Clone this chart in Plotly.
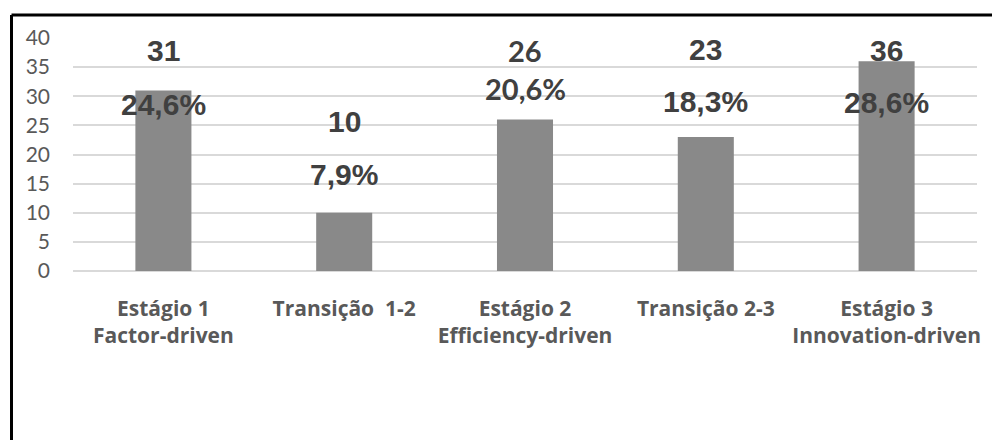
import plotly.graph_objects as go

# Categories and counts per stage of economic development
categories = [
    "Estágio 1<br>Factor-driven",
    "Transição\u00a0 1-2",
    "Estágio 2<br>Efficiency-driven",
    "Transição 2-3",
    "Estágio 3<br>Innovation-driven",
]
counts = [31, 10, 26, 23, 36]
y_ticks = [0, 5, 10, 15, 20, 25, 30, 35, 40]

# Vertical placement (axis units) of the count and percentage labels
count_label_y = [37.9, 25.6, 37.8, 38.1, 37.9]
pct_label_y = [28.6, 16.6, 31.4, 29.1, 28.9]

total = sum(counts)
pct_text = [f"{c / total * 100:.1f}%".replace(".", ",") for c in counts]

W, H = 992, 440
ML, MR, MT, MB = 73, 15, 38, 169
plot_w = W - ML - MR
plot_h = H - MT - MB

fig = go.Figure()
fig.add_trace(go.Bar(
    x=categories,
    y=counts,
    marker=dict(color="#898989", line=dict(width=0)),
    hoverinfo="x+y",
))

label_color = "#404040"
for i, (cat, c, cy, py, p) in enumerate(zip(categories, counts, count_label_y,
                                            pct_label_y, pct_text)):
    fam = "Lato" if i == 2 else "Liberation Sans, Arial"
    size = 29 if i == 2 else 30
    fig.add_annotation(x=cat, y=cy, text=str(c), showarrow=False,
                       xanchor="center", yanchor="middle",
                       font=dict(family=fam, size=size, color=label_color, weight="bold"))
    fig.add_annotation(x=cat, y=py, text=p, showarrow=False,
                       xanchor="center", yanchor="middle",
                       font=dict(family=fam, size=size, color=label_color, weight="bold"))

# Frame: thick black lines along the top and left edges
def px_to_paper_x(px):
    return (px - ML) / plot_w

def px_to_paper_y(py):
    return (H - MB - py) / plot_h

frame = dict(color="#000000", width=3)
fig.add_shape(type="line", xref="paper", yref="paper",
              x0=px_to_paper_x(11.5), x1=px_to_paper_x(W + 5),
              y0=px_to_paper_y(15), y1=px_to_paper_y(15), line=frame)
fig.add_shape(type="line", xref="paper", yref="paper",
              x0=px_to_paper_x(11.5), x1=px_to_paper_x(11.5),
              y0=px_to_paper_y(15), y1=px_to_paper_y(H + 5), line=frame)

fig.update_layout(
    width=W, height=H,
    margin=dict(l=ML, r=MR, t=MT, b=MB, pad=0),
    paper_bgcolor="#ffffff",
    plot_bgcolor="#ffffff",
    bargap=0.69,
    showlegend=False,
    xaxis=dict(
        type="category",
        showgrid=False,
        showline=False,
        zeroline=False,
        ticks="",
        ticklabelstandoff=23,
        tickfont=dict(family="Open Sans", size=21, color="#595959", weight="bold"),
    ),
    yaxis=dict(
        range=[0, 40],
        tickvals=y_ticks,
        showgrid=True,
        gridcolor="#d9d9d9",
        gridwidth=2,
        zeroline=True,
        zerolinecolor="#d9d9d9",
        zerolinewidth=2,
        showline=False,
        ticks="",
        ticklabelstandoff=22,
        tickfont=dict(family="Lato", size=21, color="#595959"),
    ),
)

fig.write_html("out.html")
